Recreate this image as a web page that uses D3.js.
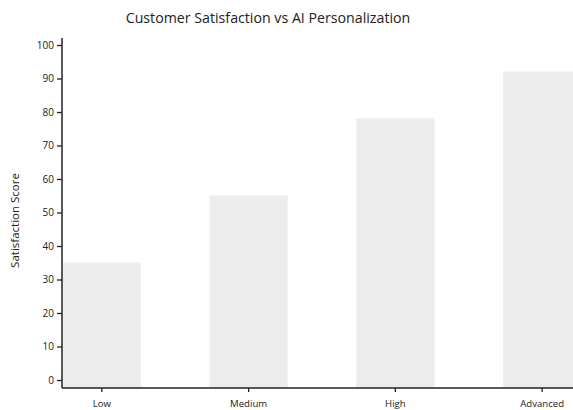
<!DOCTYPE html>
<html>
<head>
<meta charset="utf-8">
<script src="https://cdn.jsdelivr.net/npm/d3@7"></script>
<style>
  body { margin: 0; background: #fff; font-family: "Open Sans", sans-serif; }
  svg { display: block; }
</style>
</head>
<body>
<svg id="chart"></svg>
<script>
const categories = ["Low", "Medium", "High", "Advanced"];
const scores = [35, 55, 78, 92];
const yTicks = [0, 10, 20, 30, 40, 50, 60, 70, 80, 90, 100];

const width = 573;
const height = 410;
const margin = { top: 45, right: -8, bottom: 30, left: 62 };
const baseline = 388; // x axis sits a little below the zero tick

const svg = d3.select("#chart").attr("width", width).attr("height", height);

const x = d3.scaleBand()
  .domain(categories)
  .range([margin.left + 1, width - margin.right])
  .paddingInner(0.47)
  .paddingOuter(0);

const y = d3.scaleLinear()
  .domain([0, 100])
  .range([height - margin.bottom, margin.top]);

// bars
svg.append("g")
  .selectAll("rect")
  .data(categories)
  .join("rect")
  .attr("x", (d) => x(d))
  .attr("y", (d, i) => y(scores[i]))
  .attr("width", x.bandwidth())
  .attr("height", (d, i) => baseline - y(scores[i]))
  .attr("fill", "#ececec")
  .attr("stroke", "#f2f2f2")
  .attr("stroke-width", 1);

// y axis
svg.append("g")
  .attr("transform", `translate(${margin.left}, 0)`)
  .call(d3.axisLeft(y).tickValues(yTicks).tickSizeOuter(0).tickSize(5))
  .call((g) => g.select(".domain")
    .attr("d", `M0,${baseline}V${y(100) - 7}`)
    .attr("stroke", "#222")
    .attr("stroke-width", 1.5))
  .call((g) => g.selectAll(".tick line").attr("stroke", "#222").attr("stroke-width", 1.3))
  .call((g) => g.selectAll(".tick text")
    .attr("font-family", "Open Sans, sans-serif")
    .attr("font-size", 10)
    .attr("fill", "#222"));

// x axis
svg.append("g")
  .attr("transform", `translate(0, ${baseline})`)
  .call(d3.axisBottom(x).tickSizeOuter(0).tickSize(4))
  .call((g) => g.select(".domain")
    .attr("d", `M${margin.left},0H${width + 20}`)
    .attr("stroke", "#222")
    .attr("stroke-width", 1.5))
  .call((g) => g.selectAll(".tick line").attr("stroke", "#222").attr("stroke-width", 1.3))
  .call((g) => g.selectAll(".tick text")
    .attr("font-family", "Open Sans, sans-serif")
    .attr("font-size", 9.6)
    .attr("fill", "#222")
    .attr("dy", "1.3em"));

// y label
svg.append("text")
  .attr("transform", `translate(19, ${(y(0) + y(100)) / 2 + 8}) rotate(-90)`)
  .attr("text-anchor", "middle")
  .attr("font-size", 11.5)
  .attr("fill", "#222")
  .text("Satisfaction Score");

// title
svg.append("text")
  .attr("x", 268)
  .attr("y", 23)
  .attr("text-anchor", "middle")
  .attr("font-size", 14.2)
  .attr("fill", "#222")
  .text("Customer Satisfaction vs AI Personalization");
</script>
</body>
</html>
